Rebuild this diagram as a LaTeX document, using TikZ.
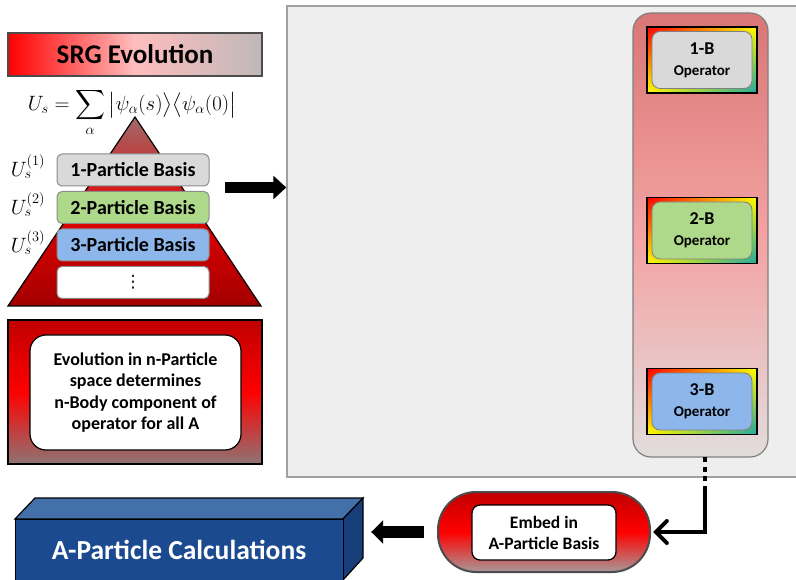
\documentclass[tikz,border=0pt]{standalone}
\usepackage[no-math]{fontspec}
\setmainfont{Carlito}
\newfontfamily\dejavu{DejaVu Sans}
\usepackage{amsmath}
\usetikzlibrary{arrows.meta,calc,shadings}
\definecolor{srgpink}{HTML}{FFBDBD}
\definecolor{srggray}{HTML}{BFB8B8}
\definecolor{basisline}{HTML}{8C8C8C}
\definecolor{gray1}{HTML}{D9D9D9}
\definecolor{green1}{HTML}{AED88A}
\definecolor{blue1}{HTML}{8DB6EA}
\definecolor{darkred1}{HTML}{C00000}
\definecolor{redgray}{HTML}{8E7474}
\definecolor{trigtop}{HTML}{A06A6A}
\definecolor{panelfill}{HTML}{EEEEEE}
\definecolor{panelline}{HTML}{A0A0A0}
\definecolor{coltop}{HTML}{D97676}
\definecolor{colmid}{HTML}{F4A2A2}
\definecolor{colbot}{HTML}{E2DCDC}
\definecolor{calcfront}{HTML}{1B4A90}
\definecolor{calctop}{HTML}{4470AA}
\definecolor{calcside}{HTML}{173E78}
\definecolor{pillbot}{HTML}{A89898}
\definecolor{tealc}{HTML}{20A8A0}
\begin{document}
\begin{tikzpicture}[x=1pt,y=-1pt,
  basis/.style={draw=basisline, line width=1pt, rounded corners=5pt, minimum width=152pt, minimum height=32pt, font=\fontsize{20}{22}\selectfont\bfseries, inner sep=0pt},
  opframe/.style={shade, draw=black, line width=1.5pt, minimum width=110pt, minimum height=66pt, upper left=red, upper right=yellow, lower left=yellow, lower right=tealc, inner sep=0pt},
  opbox/.style={draw=gray, line width=0.8pt, rounded corners=8pt, minimum width=100pt, minimum height=57pt, align=center, inner sep=0pt, font=\fontsize{15}{21}\selectfont\bfseries},
  blockarrow/.style={line width=11.5pt, -{Triangle[width=23pt,length=13pt]}},
  ulabel/.style={font=\fontsize{21}{22}\selectfont, inner sep=0pt},
]
\clip (0,0) rectangle (796,580);
\fill[white] (0,0) rectangle (796,580);

% gray panel
\node[draw=panelline, fill=panelfill, line width=1.5pt, minimum width=530pt, minimum height=471pt, inner sep=0pt] (panel) at (552,241.5) {};

% SRG title
\node[draw=black!70, line width=1.5pt, left color=red, right color=srggray, middle color=srgpink, minimum width=254pt, minimum height=43pt, inner sep=0pt, font=\fontsize{27}{29}\selectfont\bfseries] (srg) at (135,54.5) {SRG Evolution};

% formula
\node[inner sep=0pt, font=\fontsize{22}{25}\selectfont] (formula) at (132,112.5) {$\displaystyle U_s=\sum_{\alpha}\big|\psi_{\alpha}(s)\big\rangle\big\langle\psi_{\alpha}(0)\big|$};

% pyramid
\shade[top color=trigtop, bottom color=darkred1!85!black, middle color=red!90!black, draw=black, line width=1.2pt] (135,117) -- (261,306) -- (8,306) -- cycle;

\node[basis, fill=gray1] (b1) at (133,170) {1-Particle Basis};
\node[basis, fill=green1] (b2) at (133,207.5) {2-Particle Basis};
\node[basis, fill=blue1] (b3) at (133,245) {3-Particle Basis};
\node[basis, fill=white, font=\fontsize{17}{18}\selectfont\dejavu] (b4) at (133,282.5) {⋮};

\node[ulabel] (u1) at (28,167) {$U_s^{(1)}$};
\node[ulabel] (u2) at (28,205) {$U_s^{(2)}$};
\node[ulabel] (u3) at (28,243) {$U_s^{(3)}$};

% evolution box
\node[draw=black, line width=1.5pt, top color=darkred1, bottom color=redgray, middle color=red, minimum width=254pt, minimum height=144pt, inner sep=0pt] (evo) at (135,392) {};
\node[draw=black, line width=1.2pt, fill=white, rounded corners=16pt, minimum width=211pt, minimum height=115pt, inner sep=0pt, align=center, font=\fontsize{18}{21.5}\selectfont\bfseries] (evotext) at (135.5,392.5) {Evolution in n-Particle\\space determines\\n-Body component of\\operator for all A};

% arrow to panel
\coordinate (a1s) at (225,187.5);
\draw[blockarrow] (a1s) -- (panel.west |- a1s);

% operator column
\node[draw=gray, line width=1.2pt, rounded corners=18pt, top color=coltop, bottom color=colbot, middle color=colmid, minimum width=135pt, minimum height=444pt, inner sep=0pt] (col) at (700.5,235) {};

\node[opframe] (f1) at (702,60) {};
\node[opbox, fill=gray1] (o1) at (f1.center) {{\fontsize{18}{21}\selectfont 1-B}\\Operator};
\node[opframe] (f2) at (702,230.5) {};
\node[opbox, fill=green1] (o2) at (f2.center) {{\fontsize{18}{21}\selectfont 2-B}\\Operator};
\node[opframe] (f3) at (702,401.5) {};
\node[opbox, fill=blue1] (o3) at (f3.center) {{\fontsize{18}{21}\selectfont 3-B}\\Operator};

% embed pill
\node[draw=black!70, line width=2pt, rounded corners=38pt, top color=darkred1, bottom color=pillbot, middle color=red, minimum width=212pt, minimum height=80pt, inner sep=0pt] (pill) at (544,532) {};
\node[draw=black, line width=1.3pt, fill=white, rounded corners=8pt, minimum width=144pt, minimum height=55pt, inner sep=0pt, align=center, font=\fontsize{17.5}{21}\selectfont\bfseries] (embed) at (544,532.5) {Embed in\\A-Particle Basis};

% connector column -> pill
\coordinate (cbot) at (705,457);
\coordinate (cmid) at (705,489);
\draw[line width=4pt, dash pattern=on 5pt off 4.5pt] (cbot) -- (cmid);
\draw[line width=4pt, -{Straight Barb[length=11pt,width=22pt,line cap=round]}] (cmid) |- ([xshift=2pt]pill.east);

% A-particle box (3D)
\fill[calctop, draw=black, line width=1.2pt] (15,519) -- (35,498) -- (363,498) -- (343,519) -- cycle;
\fill[calcside, draw=black, line width=1.2pt] (343,519) -- (363,498) -- (363,558) -- (343,580) -- cycle;
\node[fill=calcfront, draw=black, line width=1.2pt, minimum width=328pt, minimum height=82pt, inner sep=0pt, anchor=north west] (calc) at (15,519) {};
\node[text=white, font=\fontsize{27.5}{29}\selectfont\bfseries] (calctext) at (179,550) {A-Particle Calculations};

% arrow pill -> calc
\draw[line width=12pt, -{Triangle[width=23pt,length=12pt]}] ([xshift=-13pt]pill.west) -- ([xshift=27pt]calc.east |- pill.west);
\end{tikzpicture}
\end{document}
